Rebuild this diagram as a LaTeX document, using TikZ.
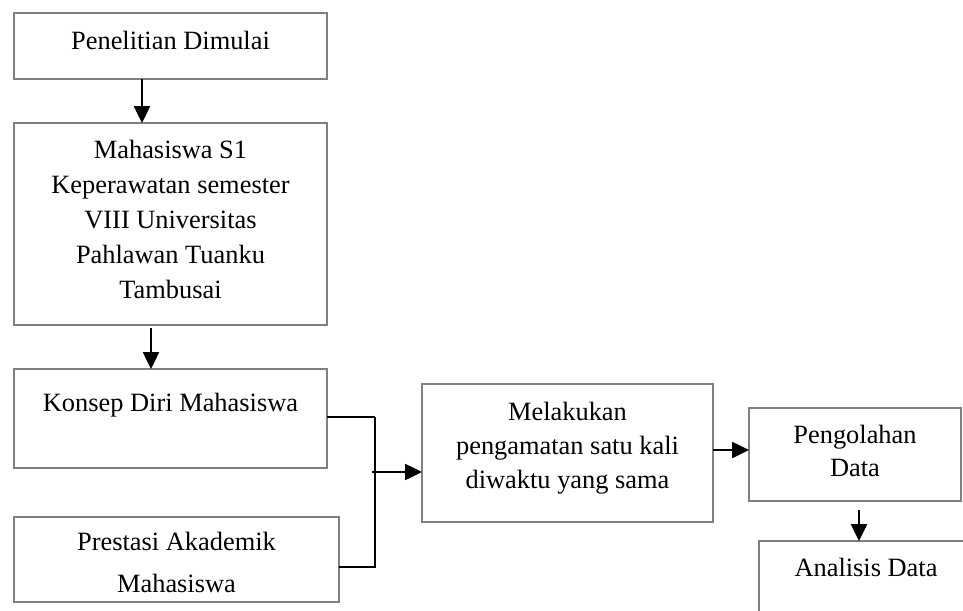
\documentclass[tikz,border=0pt]{standalone}
\usepackage{fontspec}
\setmainfont{Liberation Serif}
\usetikzlibrary{arrows.meta}
\newcommand{\bxt}[5]{\parbox[b][#2pt][t]{#1pt}{\centering\fontsize{26.4}{#4}\selectfont\rule{0pt}{#3pt}#5}}
\tikzset{
  fbox/.style={draw=black!50, line width=1.2pt, inner sep=0pt, outer sep=0pt, anchor=north west},
  arr/.style={line width=2.5pt, -{Triangle[length=17pt,width=16pt]}},
  ln/.style={line width=2.5pt}
}
\begin{document}
\begin{tikzpicture}[x=1pt,y=-1pt]
\useasboundingbox (0,0) rectangle (963,610);
\node[fbox] (b1) at (14,13) {\bxt{313}{66}{36}{35}{Penelitian Dimulai}};
\node[fbox] (b2) at (14,123) {\bxt{313}{202}{35}{35}{Mahasiswa S1\\Keperawatan semester\\VIII Universitas\\Pahlawan Tuanku\\Tambusai}};
\node[fbox] (b3) at (14,369) {\bxt{313}{99}{42.7}{35}{Konsep Diri Mahasiswa}};
\node[fbox] (b4) at (14,517) {\bxt{325}{85}{33}{42.7}{Prestasi Akademik\\Mahasiswa}};
\node[fbox] (b5) at (422,384) {\bxt{291}{138}{36}{34}{Melakukan\\pengamatan satu kali\\diwaktu yang sama}};
\node[fbox] (b6) at (749,408) {\bxt{212}{93}{35}{33.7}{Pengolahan\\Data}};
\node[fbox] (b7) at (759,541) {\bxt{214}{100}{35.7}{35}{Analisis Data}};
% connectors
\draw[arr] ([xshift=128pt]b1.south west) -- ([xshift=128pt]b2.north west);
\draw[arr] ([xshift=137pt,yshift=-3pt]b2.south west) -- ([xshift=137pt]b3.north west);
\draw[ln] ([yshift=-48pt]b3.north east) -- ++(48,0) coordinate (j1);
\draw[ln] (b4.north east) ++(0,50) coordinate (j3) -- (j3 -| j1) coordinate (j2) -- (j1);
\coordinate (j4) at ([yshift=-88pt]b5.north west);
\draw[arr] ([xshift=-3pt]j4 -| j1) -- (j4);
\draw[arr] ([yshift=-66pt]b5.north east) -- ([yshift=-42pt]b6.north west);
\draw[arr] ([xshift=110pt,yshift=-9pt]b6.south west) -- ([xshift=100pt]b7.north west);
\end{tikzpicture}
\end{document}
